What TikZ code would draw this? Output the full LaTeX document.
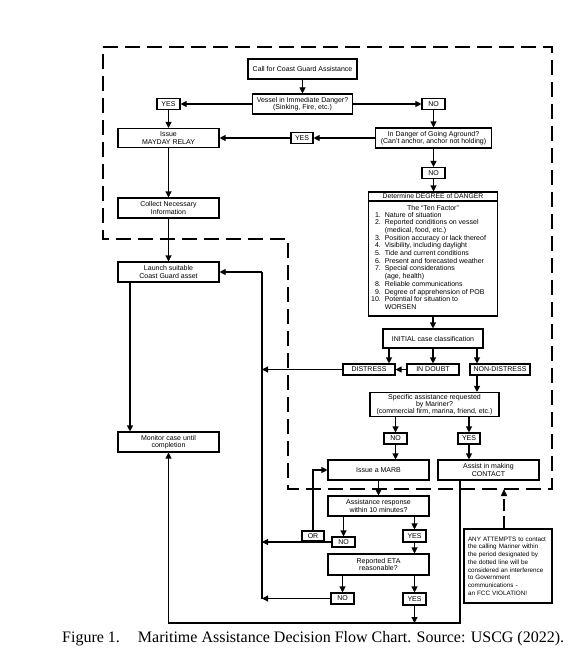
\documentclass[tikz,border=0pt]{standalone}
\usepackage{fontspec}
\setmainfont{Liberation Sans}
\newfontfamily\capfont{Liberation Serif}
\usetikzlibrary{arrows.meta,calc}
\begin{document}
\begin{tikzpicture}[x=1pt,y=-1pt,
  box/.style={draw, line width=1.1pt, inner sep=0pt, align=center, minimum width=101pt, minimum height=20pt, font=\fontsize{7}{7.4}\selectfont},
  lbl/.style={box, minimum width=23pt, minimum height=11pt},
  ln/.style={line width=1.1pt},
  arr/.style={line width=1.1pt, -{Triangle[length=6pt,width=6pt]}},
  dsh/.style={line width=1.4pt, dash pattern=on 15pt off 7pt},
  notearr/.style={line width=1.4pt, dash pattern=on 12pt off 5pt, -{Triangle[length=7pt,width=6pt]}},
]
\useasboundingbox[fill=white] (0,0) rectangle (586,658);

% dashed border
\draw[dsh] (103,47) -- (552,47) -- (552,489) -- (288,489) -- (288,239) -- (103,239) -- cycle;
\coordinate (bb) at (552,489);
\coordinate (sp) at (262,0);
\coordinate (bot) at (0,623);

% nodes
\node[box, minimum width=109pt] (call) at (302.5,69) {Call for Coast Guard Assistance};
\node[box, minimum width=100pt] (vessel) at (302.5,104) {Vessel in Immediate Danger?\\(Sinking, Fire, etc.)};
\node[lbl] (yes1) at (168.5,104) {YES};
\node[lbl] (no1) at (433.5,104) {NO};
\node[box, minimum height=19pt] (mayday) at (168.5,138) {Issue\\MAYDAY RELAY};
\node[box, minimum width=116pt] (aground) at (433.5,138) {In Danger of Going Aground?\\(Can't anchor, anchor not holding)};
\node[lbl, minimum width=22pt] (yes2) at (302,138) {YES};
\node[lbl] (no2) at (433.5,173) {NO};

\node[box, minimum width=129pt, minimum height=124pt] (degree) at (433,254) {};
\draw[ln] ([yshift=-9.5pt]degree.north west) -- ([yshift=-9.5pt]degree.north east);
\node[inner sep=0pt, font=\fontsize{6.8}{7.4}\selectfont] (degT) at ($(degree.north)+(0,4.6)$) {Determine DEGREE of DANGER};
\node[inner sep=0pt, font=\fontsize{7}{7.4}\selectfont] (degS) at (433,208) {The ``Ten Factor''};
\node[inner sep=0pt, anchor=north west, font=\fontsize{7}{7.7}\selectfont] (degL) at (371,211.5) {%
\begin{tabular}{@{}r@{~~}l@{}}
1. & Nature of situation\\
2. & Reported conditions on vessel\\
   & (medical, food, etc.)\\
3. & Position accuracy or lack thereof\\
4. & Visibility, including daylight\\
5. & Tide and current conditions\\
6. & Present and forecasted weather\\
7. & Special considerations\\
   & (age, health)\\
8. & Reliable communications\\
9. & Degree of apprehension of POB\\
10. & Potential for situation to\\
   & WORSEN
\end{tabular}};

\node[box] (collect) at (168.5,208) {Collect Necessary\\Information};
\node[box] (launch) at (168.5,272) {Launch suitable\\Coast Guard asset};
\node[box] (monitor) at (168.5,442) {Monitor case until\\completion};
\node[box, minimum width=100pt, minimum height=19pt] (initial) at (433,338.5) {INITIAL case classification};
\node[lbl, minimum width=52pt] (distress) at (369,369.5) {DISTRESS};
\node[lbl, minimum width=52pt] (indoubt) at (433,369.5) {IN DOUBT};
\node[lbl, minimum width=60pt] (nondis) at (500,369.5) {NON-DISTRESS};
\node[box, minimum width=129pt, minimum height=24pt, font=\fontsize{7}{6.9}\selectfont] (specific) at (434.5,404.5) {Specific assistance requested\\by Mariner?\\(commercial firm, marina, friend, etc.)};
\node[lbl] (no3) at (395.5,438.5) {NO};
\node[lbl, minimum width=22pt] (yes3) at (469,438.5) {YES};
\node[box] (marb) at (378.5,470) {Issue a MARB};
\node[box] (contact) at (488.5,470) {Assist in making\\CONTACT};
\node[box] (assist) at (378.5,506) {Assistance response\\within 10 minutes?};
\node[lbl, minimum height=10pt] (no4) at (343.5,542) {NO};
\node[lbl, minimum height=12pt] (yes4) at (414.5,536) {YES};
\node[lbl, minimum width=22pt, minimum height=10pt] (or) at (313,536) {OR};
\node[box, minimum height=21pt] (eta) at (378.5,564.5) {Reported ETA\\reasonable?};
\node[lbl] (no5) at (342.5,598.5) {NO};
\node[lbl, minimum height=12pt] (yes5) at (414.5,599) {YES};
\node[box, minimum width=88pt, minimum height=74pt, text width=80pt, inner xsep=4pt, align=left, font=\fontsize{6.3}{7.7}\selectfont] (note) at (508,566) {ANY ATTEMPTS to contact\\the calling Mariner within\\the period designated by\\the dotted line will be\\considered an interference\\to Government\\communications -\\an FCC VIOLATION!};

% connectors
\draw[arr] (call) -- (vessel);
\draw[arr] (vessel.west) -- (yes1.east);
\draw[arr] (vessel.east) -- (no1.west);
\draw[arr] (yes1) -- (mayday);
\draw[arr] (no1) -- (aground);
\draw[arr] (aground.west) -- (yes2.east);
\draw[arr] (yes2.west) -- (mayday.east);
\draw[arr] (aground) -- (no2);
\draw[arr] (no2.south) -- (no2.south |- degree.north);
\draw[arr] (mayday) -- (collect);
\draw[arr] (collect) -- (launch);
\draw[arr] ([xshift=-38.5pt]launch.south) -- ([xshift=-38.5pt]monitor.north);
\draw[arr] (degree) -- (initial);
\draw[arr] ([xshift=-44pt]initial.south) -- ([xshift=-44pt]initial.south |- distress.north);
\draw[arr] (initial) -- (indoubt);
\draw[arr] ([xshift=44pt]initial.south) -- ([xshift=44pt]initial.south |- nondis.north);
\draw[arr] (indoubt) -- (distress);
\draw[arr] (distress.west) -- (distress.west -| sp);
\draw[ln] (no5.west -| sp) -- (launch.east -| sp);
\draw[arr] (launch.east -| sp) -- (launch.east);
\draw[arr] ([xshift=-23pt]nondis.south) -- ([xshift=-23pt]nondis.south |- specific.north);
\draw[arr] (no3.north |- specific.south) -- (no3.north);
\draw[arr] (yes3.north |- specific.south) -- (yes3.north);
\draw[arr] (no3.south) -- (no3.south |- marb.north);
\draw[arr] (yes3.south) -- (yes3.south |- contact.north);
\draw[arr] (marb) -- (assist);
\draw[arr] (no4.north |- assist.south) -- (no4.north);
\draw[arr] (yes4.north |- assist.south) -- (yes4.north);
\draw[arr] (no4.west) -- (no4.west -| sp);
\draw[arr] (or.north) |- (marb.west);
\draw[arr] (yes4.south) -- (yes4.south |- eta.north);
\draw[arr] (no5.north |- eta.south) -- (no5.north);
\draw[arr] (yes5.north |- eta.south) -- (yes5.north);
\draw[arr] (no5.west) -- (no5.west -| sp);
\draw[arr] (yes5.south) -- (yes5.south |- bot);
\draw[arr] ([xshift=-28.5pt]contact.south) |- (bot -| monitor.south) -- (monitor.south);
\draw[notearr] ([xshift=-4pt]note.north) -- ([xshift=-4pt]note.north |- bb);

% caption
\node[anchor=base west, inner sep=0pt, font=\capfont\fontsize{16}{19}\selectfont] (cap) at (62,642) {Figure 1.\hspace{18pt}Maritime Assistance Decision Flow Chart. Source: USCG (2022).};
\end{tikzpicture}
\end{document}
